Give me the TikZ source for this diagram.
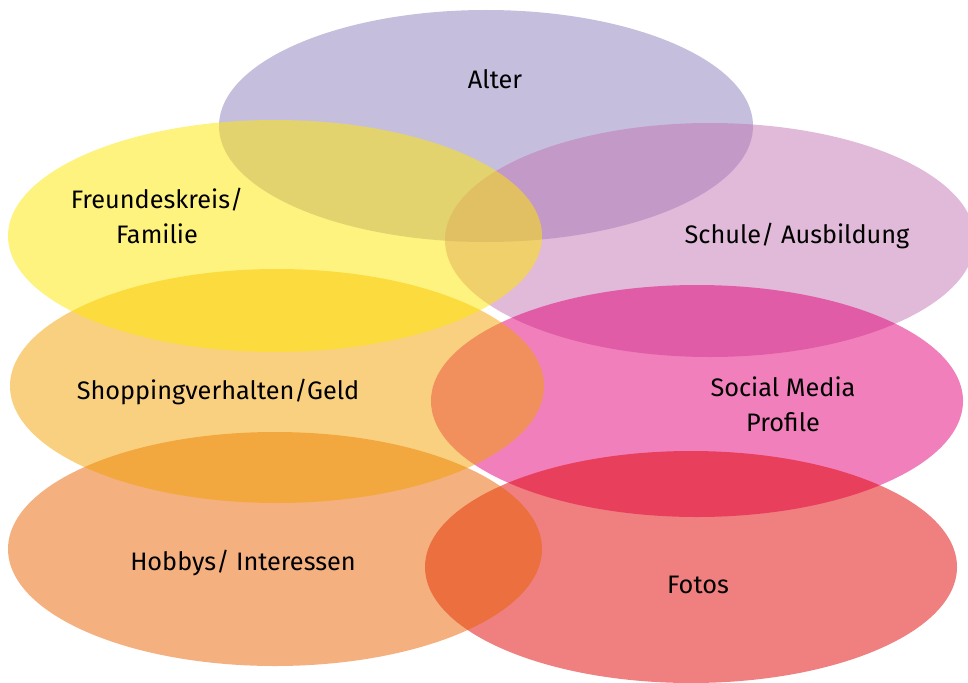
\documentclass[tikz,border=0pt]{standalone}
\usepackage{fontspec}
\setmainfont{Fira Sans}
\definecolor{cAlter}{RGB}{139,127,187}
\definecolor{cSchule}{RGB}{193,117,177}
\definecolor{cSocial}{RGB}{227,0,119}
\definecolor{cFotos}{RGB}{225,0,0}
\definecolor{cHobby}{RGB}{233,97,0}
\definecolor{cShop}{RGB}{243,161,0}
\definecolor{cFreund}{RGB}{255,231,0}
\tikzset{
  blob/.style={fill=#1, fill opacity=0.5, draw=none},
  lbl/.style={font=\fontsize{25.3}{35}\selectfont, text=black, inner sep=0pt, align=center}
}
\begin{document}
\begin{tikzpicture}[x=1pt,y=-1pt]
\useasboundingbox (0,0) rectangle (968,682);
\begin{scope}
\clip (0,0) rectangle (968,682);
\fill[blob=cAlter]   (486,126) ellipse [x radius=267pt, y radius=116pt];
\fill[blob=cSchule]  (710,240) ellipse [x radius=265pt, y radius=117pt];
\fill[blob=cSocial]  (697,401) ellipse [x radius=266pt, y radius=116pt];
\fill[blob=cFotos]   (691,567) ellipse [x radius=266pt, y radius=116pt];
\fill[blob=cHobby]   (275,549) ellipse [x radius=267pt, y radius=117pt];
\fill[blob=cShop]    (277,386) ellipse [x radius=267pt, y radius=117pt];
\fill[blob=cFreund]  (275,236) ellipse [x radius=267pt, y radius=116pt];
\end{scope}
\node[lbl, anchor=base] (alter) at (495,89) {Alter};
\node[lbl] (freund) at (157,216) {Freundeskreis/\\Familie};
\node[lbl, anchor=base] (schule) at (797,243) {Schule/ Ausbildung};
\node[lbl, anchor=base] (shop) at (218,399) {Shoppingverhalten/Geld};
\node[lbl] (social) at (783,404) {Social Media\\Profile};
\node[lbl, anchor=base] (hobby) at (243,570) {Hobbys/ Interessen};
\node[lbl, anchor=base] (fotos) at (698,593) {Fotos};
\end{tikzpicture}
\end{document}
